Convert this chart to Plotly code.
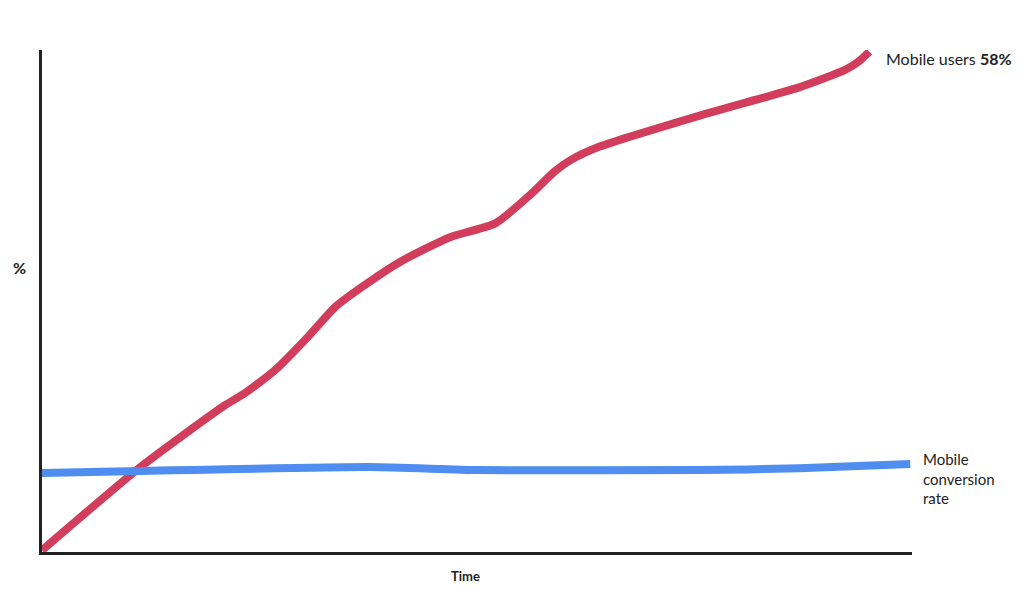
import plotly.graph_objects as go

# Data (time as 0-100 index, percent values)
red_x = [0, 11.3, 21.0, 23.3, 26.8, 30.8, 33.7, 36.6, 41.1, 46.9, 52.1, 56.1, 58.9, 60.7, 64.1, 75.6, 87.1, 92.3, 93.8, 95.1]
red_y = [0.2, 9.85, 17.0, 18.4, 21.1, 25.2, 28.4, 30.6, 33.6, 36.5, 38.1, 41.4, 44.1, 45.4, 47.0, 50.6, 53.9, 55.9, 56.8, 58.0]
blue_x = [0, 11.3, 37.7, 50.3, 75.6, 87.1, 99.8]
blue_y = [9.16, 9.4, 9.85, 9.5, 9.5, 9.7, 10.2]

RED = "#D33D5C"
BLUE = "#4F8DF0"
FONT = "Lato"
TXT = "#222222"

fig = go.Figure()
fig.add_trace(go.Scatter(x=red_x, y=red_y, mode="lines",
                         line=dict(color=RED, width=8, shape="spline", smoothing=0.6),
                         cliponaxis=False, hoverinfo="skip"))
fig.add_trace(go.Scatter(x=blue_x, y=blue_y, mode="lines",
                         line=dict(color=BLUE, width=8, shape="spline", smoothing=0.6),
                         cliponaxis=False, hoverinfo="skip"))

fig.update_layout(
    width=1016, height=593,
    margin=dict(l=34, r=112, t=42, b=49),
    plot_bgcolor="white", paper_bgcolor="white",
    showlegend=False,
    font=dict(family=FONT, color=TXT),
    xaxis=dict(range=[0, 100], showgrid=False, zeroline=False, showticklabels=False,
               ticks="", showline=True, linecolor=TXT, linewidth=2.5),
    yaxis=dict(range=[0, 58.2], showgrid=False, zeroline=False, showticklabels=False,
               ticks="", showline=True, linecolor=TXT, linewidth=2.5),
    annotations=[
        dict(x=0.968, y=0.984, xref="paper", yref="paper", text="Mobile users <b>58%</b>",
             showarrow=False, xanchor="left", yanchor="middle",
             font=dict(size=16, family=FONT, color=TXT)),
        dict(x=1.0103, y=0.147, xref="paper", yref="paper", text="Mobile<br>conversion<br>rate",
             showarrow=False, xanchor="left", yanchor="middle", align="left",
             font=dict(size=15, family=FONT, color=TXT)),
        dict(x=-0.0264, y=0.566, xref="paper", yref="paper", text="<b>%</b>",
             showarrow=False, xanchor="center", yanchor="middle",
             font=dict(size=16, family=FONT, color=TXT)),
        dict(x=0.487, y=-0.0478, xref="paper", yref="paper", text="<b>Time</b>",
             showarrow=False, xanchor="center", yanchor="middle",
             font=dict(size=13, family=FONT, color=TXT)),
    ],
)

fig.write_html("out.html")
